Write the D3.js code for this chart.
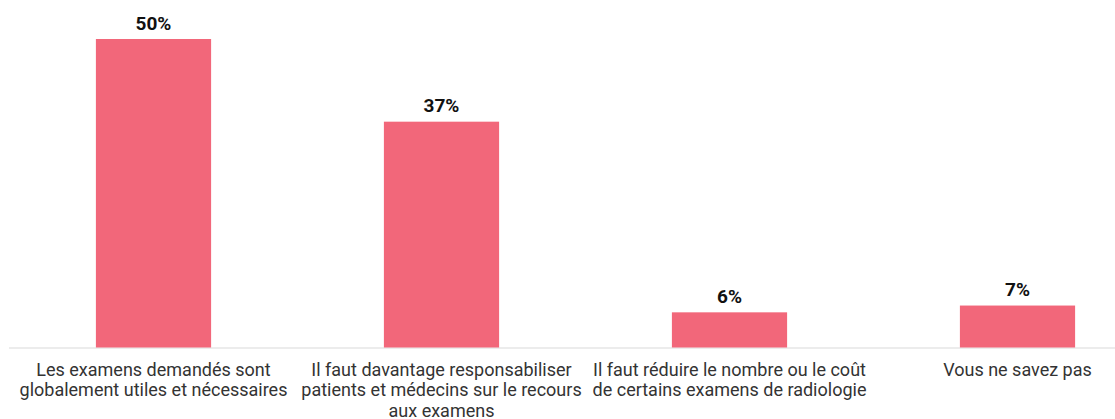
<!DOCTYPE html>
<html>
<head>
<meta charset="utf-8">
<script src="https://cdn.jsdelivr.net/npm/d3@7"></script>
<style>
  body { margin: 0; background: #fff; }
  svg { display: block; font-family: Roboto, "Noto Sans", sans-serif; }
</style>
</head>
<body>
<svg id="chart" width="1115" height="419"></svg>
<script>
// data (bar heights estimated, labels are rounded)
var categories = ["c1", "c2", "c3", "c4"];
var categoryLines = [
	["Les examens demandés sont", "globalement utiles et nécessaires"],
	["Il faut davantage responsabiliser", "patients et médecins sur le recours", "aux examens"],
	["Il faut réduire le nombre ou le coût", "de certains examens de radiologie"],
	["Vous ne savez pas"]
];
var values = [50, 36.6, 5.7, 6.8];

var svg = d3.select("#chart"),
	baseline = 347.5,
	barColor = "#f2677a",
	fmt = d3.format(".0f");

var x = d3.scaleBand()
	.domain(categories)
	.range([9.5, 1161.5])
	.paddingInner(0.6)
	.paddingOuter(0.3);

var y = d3.scaleLinear()
	.domain([0, 50])
	.range([baseline, 39]);

// baseline
svg.append("line")
	.attr("x1", 9)
	.attr("x2", 1115)
	.attr("y1", baseline + 0.5)
	.attr("y2", baseline + 0.5)
	.attr("stroke", "#d9d9d9")
	.attr("stroke-width", 1);

svg.selectAll(".bar")
	.data(values)
	.enter().append("rect")
	.attr("class", "bar")
	.attr("x", function(d, i){return x(categories[i]);})
	.attr("width", x.bandwidth())
	.attr("y", function(d){return y(d);})
	.attr("height", function(d){return baseline - y(d);})
	.attr("fill", barColor);

svg.selectAll(".val")
	.data(values)
	.enter().append("text")
	.attr("class", "val")
	.attr("x", function(d, i){return x(categories[i]) + x.bandwidth() / 2;})
	.attr("y", function(d){return y(d) - 9.5;})
	.attr("text-anchor", "middle")
	.attr("font-size", 19)
	.attr("font-weight", "bold")
	.attr("fill", "#111")
	.text(function(d){return fmt(d) + "%";});

var labels = svg.selectAll(".cat")
	.data(categoryLines)
	.enter().append("text")
	.attr("class", "cat")
	.attr("text-anchor", "middle")
	.attr("font-size", 18)
	.attr("fill", "#333");

labels.selectAll("tspan")
	.data(function(d, i){return d.map(function(l){return {line: l, i: i};});})
	.enter().append("tspan")
	.attr("x", function(d){return x(categories[d.i]) + x.bandwidth() / 2;})
	.attr("y", function(d, j){return 375.5 + j * 20.5;})
	.text(function(d){return d.line;});
</script>
</body>
</html>
